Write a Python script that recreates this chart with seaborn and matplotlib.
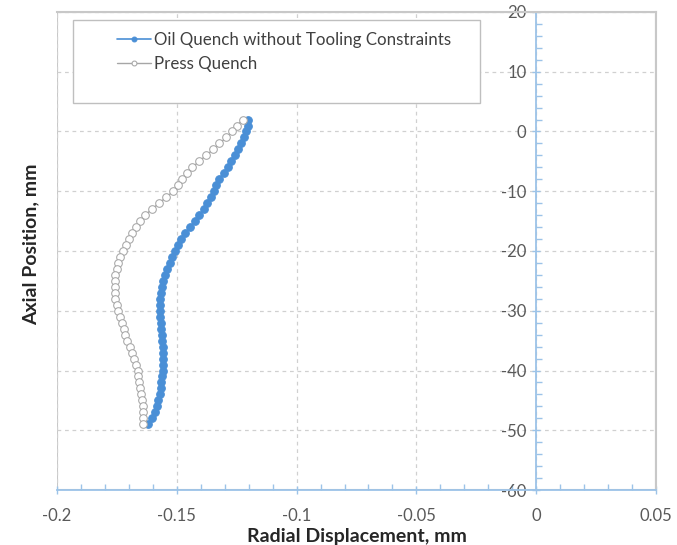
import matplotlib
matplotlib.use("Agg")
import matplotlib.pyplot as plt
from matplotlib.patches import Rectangle
from matplotlib.ticker import MultipleLocator
import seaborn as sns
import pandas as pd

sns.set_theme(style="white")
plt.rcParams['font.family'] = ['Lato', 'DejaVu Sans']

# axial positions (mm), one point per mm from top to bottom
axial = [2, 1, 0, -1, -2, -3, -4, -5, -6, -7, -8, -9, -10, -11, -12, -13, -14, -15,
         -16, -17, -18, -19, -20, -21, -22, -23, -24, -25, -26, -27, -28, -29, -30,
         -31, -32, -33, -34, -35, -36, -37, -38, -39, -40, -41, -42, -43, -44, -45,
         -46, -47, -48, -49]

# radial displacement (mm)
oil_quench = [-0.1204, -0.1204, -0.1211, -0.1221, -0.1233, -0.1245, -0.1258, -0.1272,
              -0.1287, -0.1305, -0.1325, -0.1337, -0.1345, -0.1357, -0.1372, -0.1388,
              -0.1408, -0.1426, -0.1445, -0.1466, -0.1481, -0.1494, -0.1508, -0.1520,
              -0.1530, -0.1540, -0.1550, -0.1557, -0.1561, -0.1565, -0.1569, -0.1572,
              -0.1571, -0.1569, -0.1567, -0.1565, -0.1562, -0.1560, -0.1558, -0.1558,
              -0.1558, -0.1558, -0.1559, -0.1561, -0.1564, -0.1568, -0.1572, -0.1577,
              -0.1583, -0.1590, -0.1605, -0.1622]

press_quench = [-0.1225, -0.1248, -0.1268, -0.1293, -0.1322, -0.1348, -0.1378, -0.1407,
                -0.1435, -0.1456, -0.1478, -0.1497, -0.1515, -0.1544, -0.1574, -0.1604,
                -0.1632, -0.1655, -0.1672, -0.1685, -0.1698, -0.1712, -0.1724, -0.1736,
                -0.1745, -0.1751, -0.1756, -0.1759, -0.1760, -0.1760, -0.1756, -0.1751,
                -0.1745, -0.1738, -0.1730, -0.1722, -0.1716, -0.1706, -0.1696, -0.1687,
                -0.1677, -0.1669, -0.1664, -0.1660, -0.1656, -0.1652, -0.1648, -0.1645,
                -0.1643, -0.1642, -0.1642, -0.1642]

labels = ["Oil Quench without Tooling Constraints", "Press Quench"]
xticks = [-0.2, -0.15, -0.1, -0.05, 0, 0.05]
xtick_labels = ["-0.2", "-0.15", "-0.1", "-0.05", "0", "0.05"]
yticks = [20, 10, 0, -10, -20, -30, -40, -50, -60]

df_oil = pd.DataFrame({"disp": oil_quench, "axial": axial})
df_press = pd.DataFrame({"disp": press_quench, "axial": axial})

blue = "#4a8fd6"
axis_blue = "#9cc3e8"
grey = "#a6a6a6"

fig = plt.figure(figsize=(6.77, 5.45), dpi=100)
ax = fig.add_axes([0.0842, 0.1009, 0.8848, 0.8771])

sns.lineplot(data=df_oil, x="disp", y="axial", sort=False, estimator=None, ax=ax,
             color=blue, linewidth=1.2, marker="o", markersize=5.5,
             markeredgecolor=blue, markerfacecolor=blue, label=labels[0])
sns.lineplot(data=df_press, x="disp", y="axial", sort=False, estimator=None, ax=ax,
             color=grey, linewidth=1.0, marker="o", markersize=5.5,
             markeredgecolor=grey, markerfacecolor="white", label=labels[1])

ax.set_xlim(-0.2, 0.05)
ax.set_ylim(-60, 20)
ax.xaxis.set_minor_locator(MultipleLocator(0.01))
ax.yaxis.set_minor_locator(MultipleLocator(2))
ax.set_xticks(xticks)
ax.set_xticklabels(xtick_labels)
ax.set_yticks(yticks)
ax.set_yticklabels([str(v) for v in yticks])

ax.grid(True, which="major", color="#d0d0d0", linestyle=(0, (3, 3)), linewidth=0.9)

# y axis drawn through x = 0, x axis along the bottom
ax.spines["left"].set_position(("data", 0))
for s in ["left", "bottom"]:
    ax.spines[s].set_color(axis_blue)
    ax.spines[s].set_linewidth(1.3)
for s in ["top", "right"]:
    ax.spines[s].set_color("#c8c8c8")
    ax.spines[s].set_linewidth(1.5)
ax.add_patch(Rectangle((0, 0), 1, 1, transform=ax.transAxes, fill=False,
                       edgecolor="#c8c8c8", linewidth=1.5, zorder=0.5))

ax.tick_params(axis="both", which="both", bottom=True, left=True, top=False, right=False)
ax.tick_params(axis="both", which="major", direction="inout", length=6,
               color=axis_blue, width=1.0, labelsize=12, labelcolor="#595959")
ax.tick_params(axis="both", which="minor", direction="in", length=4,
               color=axis_blue, width=1.0)
ax.tick_params(axis="x", which="major", pad=10)
ax.tick_params(axis="y", which="major", pad=4)

ax.set_ylabel("")
ax.set_xlabel("Radial Displacement, mm", fontsize=14, fontweight="bold",
              color="#262626", labelpad=3)
fig.text(0.045, 0.552, "Axial Position, mm", fontsize=14, fontweight="bold",
         color="#262626", rotation=90, ha="center", va="center")

# legend in a large framed box
ax.add_patch(Rectangle((0.027, 0.81), 0.679, 0.173, transform=ax.transAxes,
                       facecolor="white", edgecolor="#bfbfbf", linewidth=1.0, zorder=3))
leg = ax.legend(loc="upper left", bbox_to_anchor=(0.075, 0.99), frameon=False,
                fontsize=12.2, handlelength=2.0, handletextpad=0.2, labelspacing=0.45,
                labelcolor="#404040")
leg.set_zorder(4)
for h in leg.legend_handles:
    h.set_markersize(3.5)

fig.savefig("out.png", dpi=100, facecolor="white")
